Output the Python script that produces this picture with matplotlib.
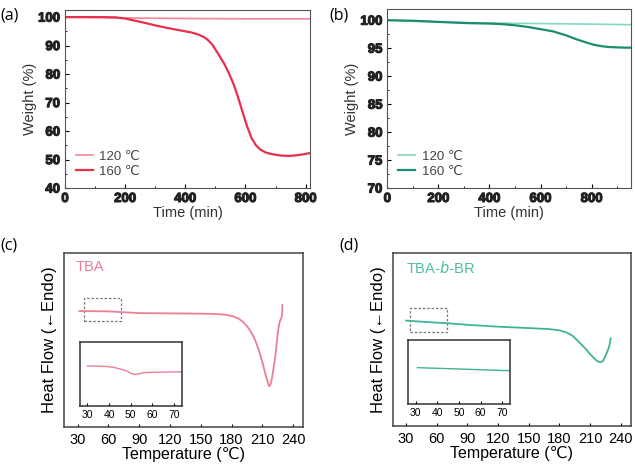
import matplotlib
matplotlib.use("Agg")
import matplotlib.pyplot as plt
import matplotlib.patheffects as pe
from matplotlib.patches import Rectangle
from matplotlib.ticker import MultipleLocator

plt.rcParams['font.family'] = ['Liberation Sans', 'DejaVu Sans']

# ---- (a) weight loss, TBA ----
ta_120 = [0, 200, 400, 600, 815]
wa_120 = [100, 99.7, 99.5, 99.4, 99.4]
ta_160 = [0, 60, 120, 170, 200, 230, 260, 300, 340, 380, 420, 440, 460, 475, 490, 510, 530, 545, 560,
          575, 590, 605, 620, 635, 650, 665, 680, 700, 720, 744, 770, 795, 815]
wa_160 = [100, 100, 100, 99.9, 99.5, 98.8, 98.1, 97.1, 96.2, 95.4, 94.6, 94.0, 93.1, 92.0, 90.3, 87.0,
          83.5, 80.3, 76.6, 72.0, 66.8, 61.8, 57.6, 55.0, 53.5, 52.6, 52.1, 51.7, 51.4, 51.3, 51.5, 51.9, 52.3]

# ---- (b) weight loss, TBA-b-BR ----
tb_120 = [0, 200, 400, 600, 800, 955]
wb_120 = [100, 99.7, 99.5, 99.4, 99.3, 99.2]
tb_160 = [0, 100, 200, 300, 400, 450, 500, 550, 600, 650, 700, 740, 780, 810, 840, 870, 900, 930, 955]
wb_160 = [100, 99.9, 99.7, 99.5, 99.4, 99.3, 99.1, 98.8, 98.4, 98.0, 97.3, 96.6, 96.0, 95.6, 95.35,
          95.2, 95.15, 95.1, 95.1]

# ---- (c) DSC, TBA (arbitrary heat flow units) ----
Tc = [31.6, 45, 60, 75, 90, 110, 130, 150, 165, 175, 182, 187, 191, 195, 198, 201, 204, 207, 210,
      213, 215, 216.6, 218, 219.5, 221, 222.5, 224, 225.3, 226.5, 228, 229, 229.4, 229.5]
hc = [66.6, 66.5, 66.4, 65.9, 65.4, 65.3, 65.2, 65.1, 64.9, 64.4, 63.5, 62.2, 60.5, 58.0, 55.5, 52.5,
      48.5, 43.5, 37.5, 30.5, 26.5, 23.5, 24.5, 28.5, 34.0, 40.0, 48.0, 55.0, 59.5, 62.0, 63.5, 66.0, 70.0]
Tc_in = [30, 35, 39, 42, 45, 48, 50.5, 52, 54, 56, 60, 65, 70, 73.5]
hc_in = [62, 61.8, 61.2, 60, 57.5, 54.5, 50, 49, 50, 51.5, 52.2, 52.5, 52.8, 53]
box_c = [36, 72, 61, 74]  # T0, T1, h0, h1

# ---- (d) DSC, TBA-b-BR ----
Td = [30, 50, 70, 90, 120, 150, 170, 180, 187, 193, 199, 205, 210, 214, 217, 220.3, 222.5, 224.5,
      226.5, 228.5, 230.2]
hd = [60.8, 60.0, 59.3, 58.4, 57.3, 56.5, 55.9, 55.2, 54.0, 52.0, 48.5, 45.0, 41.5, 39.0, 37.4, 36.8,
      37.5, 39.8, 42.5, 45.5, 50.6]
Td_in = [30.8, 50, 73.1]
hd_in = [57, 54.9, 52.3]
box_d = [34, 70, 54.4, 67.9]

red_lt, red_dk, pink = '#f5869a', '#e8304a', '#ea7f96'
teal_lt, teal_dk, teal = '#86d9c2', '#1d8c6e', '#3db596'

fig = plt.figure(figsize=(6.35, 4.75), dpi=100)

ax1 = fig.add_axes([0.1024, 0.604, 0.386, 0.375])
ax1.plot(ta_120, wa_120, color=red_lt, lw=1.2, label='120 ℃')
ax1.plot(ta_160, wa_160, color=red_dk, lw=1.6, label='160 ℃')
ax1.set_xlim(0, 815)
ax1.set_ylim(40, 102.5)
ax1.xaxis.set_major_locator(MultipleLocator(200))
ax1.xaxis.set_minor_locator(MultipleLocator(100))
ax1.yaxis.set_major_locator(MultipleLocator(10))
ax1.yaxis.set_minor_locator(MultipleLocator(5))

ax2 = fig.add_axes([0.610, 0.604, 0.384, 0.377])
ax2.plot(tb_120, wb_120, color=teal_lt, lw=1.2, label='120 ℃')
ax2.plot(tb_160, wb_160, color=teal_dk, lw=1.6, label='160 ℃')
ax2.set_xlim(0, 955)
ax2.set_ylim(70, 102)
ax2.xaxis.set_major_locator(MultipleLocator(200))
ax2.xaxis.set_minor_locator(MultipleLocator(100))
ax2.yaxis.set_major_locator(MultipleLocator(5))
ax2.yaxis.set_minor_locator(MultipleLocator(2.5))

for ax in (ax1, ax2):
    ax.set_xlabel('Time (min)', fontsize=10.5, labelpad=1, color='#333333')
    ax.set_ylabel('Weight (%)', fontsize=10.5, labelpad=1, color='#333333')
    ax.tick_params(direction='in', which='both', labelsize=9.5, length=3)
    ax.tick_params(which='minor', length=1.5)
    for s in ax.spines.values():
        s.set_color('#555555')
    leg = ax.legend(loc='lower left', frameon=False, fontsize=9.5, handlelength=1.3,
                    handletextpad=0.5, labelspacing=0.2, borderaxespad=0.4)
    for t in leg.get_texts():
        t.set_color('#444444')

def dsc_axes(rect, T, h, color, inset_rect, T_in, h_in, box):
    ax = fig.add_axes(rect)
    ax.plot(T, h, color=color, lw=1.3)
    ax.set_xlim(17, 250)
    ax.set_ylim(0, 100)
    ax.set_yticks([])
    ax.xaxis.set_major_locator(MultipleLocator(30))
    ax.tick_params(axis='x', direction='in', length=2.5, labelsize=10.5, pad=4)
    ax.set_xlabel('Temperature (℃)', fontsize=11.5, labelpad=0)
    ax.set_ylabel('Heat Flow (←Endo)', fontsize=12, labelpad=5)
    for s in ax.spines.values():
        s.set_color('#444444')
        s.set_linewidth(1.1)
    ax.add_patch(Rectangle((box[0], box[2]), box[1] - box[0], box[3] - box[2],
                           fill=False, ls=(0, (2, 1.5)), lw=0.9, ec='#777777'))
    ins = fig.add_axes(inset_rect)
    ins.plot(T_in, h_in, color=color, lw=1.0)
    ins.set_xlim(26.6, 73.5)
    ins.set_ylim(0, 100)
    ins.set_yticks([])
    ins.set_xticks([30, 40, 50, 60, 70])
    ins.tick_params(axis='x', direction='in', length=2, labelsize=7.5, pad=3)
    for s in ins.spines.values():
        s.set_color('#333333')
        s.set_linewidth(1.1)
    return ax

ax3 = dsc_axes([0.1013, 0.1004, 0.3764, 0.3676], Tc, hc, pink,
               [0.126, 0.1459, 0.160, 0.1347], Tc_in, hc_in, box_c)
ax3.text(0.049, 0.92, 'TBA', transform=ax3.transAxes, color=pink, fontsize=10.5, va='center')

ax4 = dsc_axes([0.6184, 0.1032, 0.3753, 0.3648], Td, hd, teal,
               [0.643, 0.1488, 0.160, 0.1354], Td_in, hd_in, box_d)
ax4.text(0.056, 0.91, r'TBA-$\it{b}$-BR', transform=ax4.transAxes, color='#4cc0a0',
         fontsize=10.5, va='center')

for x, y, s in [(0.0, 0.968, '(a)'), (0.519, 0.968, '(b)'), (0.0, 0.483, '(c)'), (0.535, 0.483, '(d)')]:
    fig.text(x, y, s, fontsize=11.5, va='center', ha='left', family=['Open Sans', 'DejaVu Sans'])

# heavy tick numbers on the TGA panels (stroke thickens the glyphs)
fig.canvas.draw()
for ax in (ax1, ax2):
    for lab in ax.get_xticklabels() + ax.get_yticklabels():
        lab.set_fontweight('bold')
        lab.set_color('#222222')
        lab.set_path_effects([pe.withStroke(linewidth=0.8, foreground='#222222')])

fig.savefig('out.png', dpi=100)
